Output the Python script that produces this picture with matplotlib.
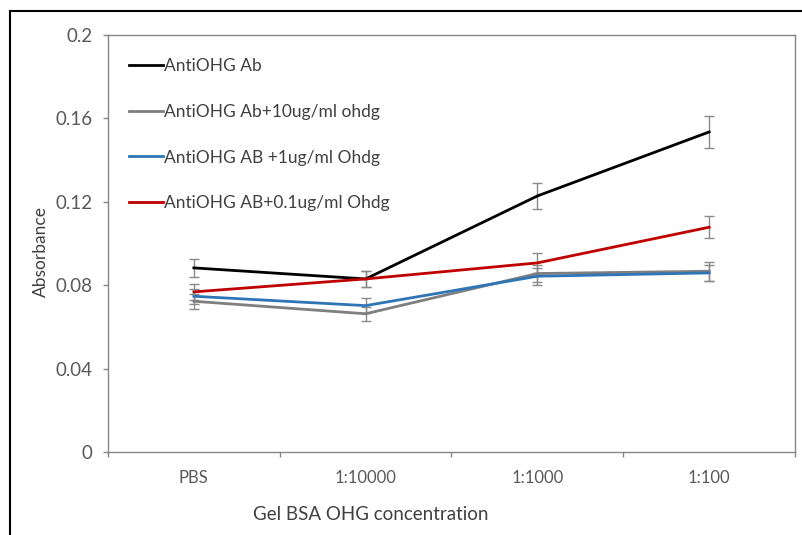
import matplotlib
matplotlib.use("Agg")
import matplotlib.pyplot as plt
from matplotlib.lines import Line2D
import numpy as np

plt.rcParams['font.family'] = ['Lato', 'DejaVu Sans']

categories = ["PBS", "1:10000", "1:1000", "1:100"]

series_names = [
    "AntiOHG Ab",
    "AntiOHG Ab+10ug/ml ohdg",
    "AntiOHG AB +1ug/ml Ohdg",
    "AntiOHG AB+0.1ug/ml Ohdg",
]
anti_ab = [0.0883, 0.0830, 0.1228, 0.1535]
anti_ab_10 = [0.0723, 0.0663, 0.0856, 0.0867]
anti_ab_1 = [0.0747, 0.0702, 0.0843, 0.0859]
anti_ab_01 = [0.0768, 0.0830, 0.0907, 0.1078]

err_ab = [0.0043, 0.0040, 0.0062, 0.0078]
err_ab_10 = [0.0035, 0.0033, 0.0040, 0.0045]
err_ab_1 = [0.0037, 0.0037, 0.0040, 0.0040]
err_ab_01 = [0.0040, 0.0040, 0.0047, 0.0052]

colors = ["#000000", "#7f7f7f", "#2e75b6", "#c00000"]

values = [anti_ab, anti_ab_10, anti_ab_1, anti_ab_01]
errors = [err_ab, err_ab_10, err_ab_1, err_ab_01]

fig = plt.figure(figsize=(8.03, 5.35), dpi=100)
ax = fig.add_axes([108 / 803, 1 - 452 / 535, (795 - 108) / 803, (452 - 35) / 535])

x = np.arange(len(categories))
for vals, errs, col, name in zip(values, errors, colors, series_names):
    ax.errorbar(x, vals, yerr=errs, fmt='none', ecolor='#8a8a8a',
                elinewidth=1.0, capsize=3.5, capthick=1.0, zorder=2)
    ax.plot(x, vals, color=col, lw=2.0, label=name, zorder=3,
            solid_joinstyle='miter')

ax.set_xlim(-0.5, len(categories) - 0.5)
ax.set_ylim(0, 0.2)
ax.set_yticks([0, 0.04, 0.08, 0.12, 0.16, 0.2])
ax.set_yticklabels(["0", "0.04", "0.08", "0.12", "0.16", "0.2"])
ax.set_xticks(x)
ax.set_xticklabels(categories)
ax.set_xticks(np.arange(-0.5, len(categories)), minor=True)

for s in ax.spines.values():
    s.set_color('#868686')
    s.set_linewidth(1.0)

ax.tick_params(axis='y', direction='out', length=3.6, width=1, color='#868686',
               labelcolor='#595959', labelsize=13.5, pad=7.5)
ax.tick_params(axis='x', which='major', length=0, labelcolor='#595959',
               labelsize=12, pad=13)
ax.tick_params(axis='x', which='minor', direction='out', length=3.6, width=1,
               color='#868686')

ax.set_ylabel("Absorbance", fontsize=12.5, color='#404040')
ax.yaxis.set_label_coords(-0.086, 0.48)
fig.text(371 / 803, 1 - 514 / 535, "Gel BSA OHG concentration", fontsize=13.5,
         color='#404040', ha='center', va='center')

leg = ax.legend(loc='upper left', bbox_to_anchor=(0.021, 0.962), frameon=False,
                handlelength=1.95, handletextpad=0.05, labelspacing=1.72,
                fontsize=12.5, borderaxespad=0)
for t in leg.get_texts():
    t.set_color('#404040')

# outer frame lines along the left and top of the figure
fig.add_artist(Line2D([10 / 803, 10 / 803], [0, 1 - 11 / 535], color='black',
                      lw=1.5, transform=fig.transFigure))
fig.add_artist(Line2D([10 / 803, 1], [1 - 11 / 535, 1 - 11 / 535], color='black',
                      lw=1.5, transform=fig.transFigure))

fig.savefig("out.png", dpi=100)
